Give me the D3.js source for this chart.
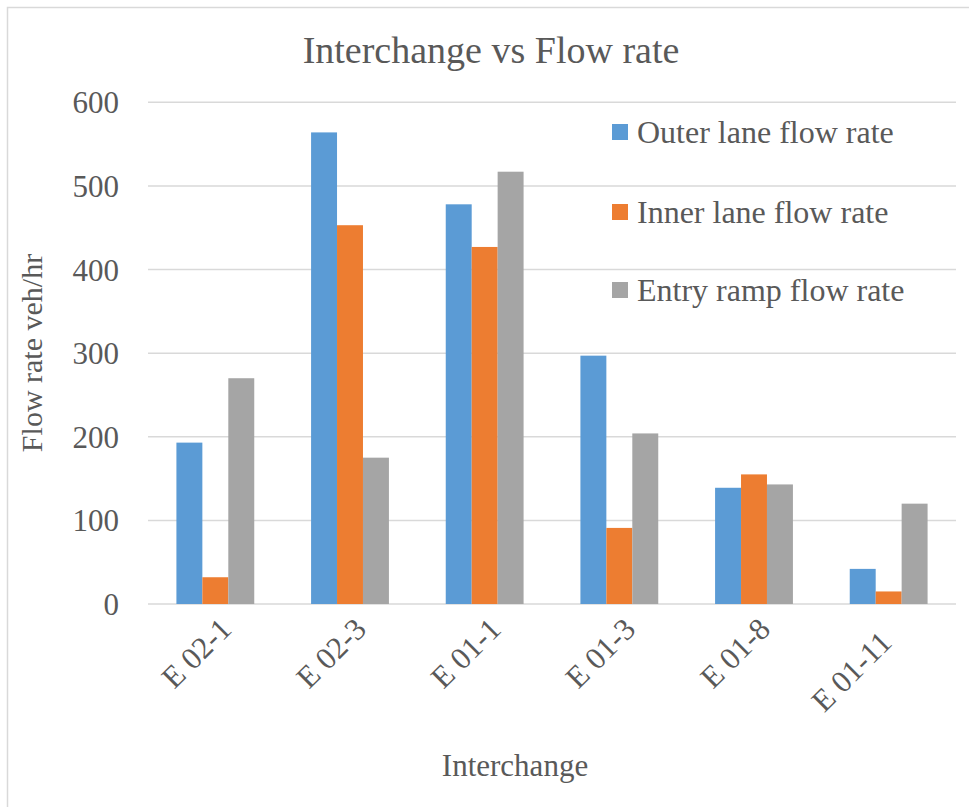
<!DOCTYPE html>
<html>
<head>
<meta charset="utf-8">
<script src="https://cdn.jsdelivr.net/npm/d3@7"></script>
<style>
  html, body { margin: 0; padding: 0; background: #fff; }
  svg { display: block; }
</style>
</head>
<body>
<svg id="chart" width="969" height="807"></svg>
<script>
// Interchanges along the corridor
const categories = ["E 02-1", "E 02-3", "E 01-1", "E 01-3", "E 01-8", "E 01-11"];

// Flow rates (veh/hr) per interchange
const outerLane = [193, 564, 478, 297, 139, 42];
const innerLane = [32, 453, 427, 91, 155, 15];
const entryRamp = [270, 175, 517, 204, 143, 120];

const seriesNames = ["Outer lane flow rate", "Inner lane flow rate", "Entry ramp flow rate"];
const seriesColors = ["#5B9BD5", "#ED7D31", "#A5A5A5"];
const yTicks = [0, 100, 200, 300, 400, 500, 600];

const series = [outerLane, innerLane, entryRamp];

const FONT = "'Liberation Serif', Tinos, 'Times New Roman', 'DejaVu Serif', serif";
const INK = "#595959";

const svg = d3.select("#chart")
  .attr("font-family", FONT);
const W = 969, H = 807;

// chart frame
svg.append("rect")
  .attr("x", 7.5).attr("y", 7.5)
  .attr("width", W).attr("height", H)
  .attr("fill", "#fff")
  .attr("stroke", "#D9D9D9").attr("stroke-width", 1.5);

const plot = { left: 148, right: 956, top: 102.3, bottom: 604 };

const x = d3.scaleBand()
  .domain(categories)
  .range([plot.left, plot.right])
  .padding(0);

// bar width follows a 219% gap width: band = 3w + 2.19w
const barW = x.bandwidth() / (3 + 2.19);
const xs = d3.scaleBand()
  .domain(d3.range(series.length))
  .range([0, barW * series.length])
  .padding(0);

const y = d3.scaleLinear()
  .domain([0, 600])
  .range([plot.bottom, plot.top]);

function label(sel) {
  return sel.attr("font-family", FONT).attr("fill", INK);
}

// horizontal gridlines
svg.append("g")
  .selectAll("line")
  .data(yTicks)
  .join("line")
  .attr("x1", plot.left).attr("x2", plot.right)
  .attr("y1", d => y(d)).attr("y2", d => y(d))
  .attr("stroke", "#D9D9D9")
  .attr("stroke-width", 1.5);

// y tick labels
svg.append("g")
  .selectAll("text")
  .data(yTicks)
  .join("text")
  .call(label)
  .attr("x", 119)
  .attr("y", d => y(d) + 11)
  .attr("text-anchor", "end")
  .attr("font-size", 31)
  .text(d => d);

// bars
const groups = svg.append("g")
  .selectAll("g")
  .data(categories)
  .join("g")
  .attr("transform", c => `translate(${x(c) + (x.bandwidth() - barW * series.length) / 2},0)`);

groups.selectAll("rect")
  .data((c, i) => series.map((s, k) => ({ k, v: s[i] })))
  .join("rect")
  .attr("x", d => xs(d.k))
  .attr("width", xs.bandwidth())
  .attr("y", d => y(d.v))
  .attr("height", d => y(0) - y(d.v))
  .attr("fill", d => seriesColors[d.k]);

// x category labels, rotated -45 degrees
const refLen = 83.5;
const xl = svg.append("g")
  .selectAll("text")
  .data(categories)
  .join("text")
  .call(label)
  .attr("text-anchor", "end")
  .attr("font-size", 31)
  .text(d => d);

xl.each(function(d) {
  const len = this.getComputedTextLength();
  const shift = (len - refLen) * 1.3 * Math.SQRT1_2;
  const cx = x(d) + x.bandwidth() / 2;
  const ax = cx + 18 - shift;
  const ay = 631 + shift;
  d3.select(this).attr("transform", `translate(${ax},${ay}) rotate(-45)`);
});

// title
svg.append("text")
  .call(label)
  .attr("x", 491).attr("y", 63)
  .attr("text-anchor", "middle")
  .attr("font-size", 38)
  .text("Interchange vs Flow rate");

// axis titles
svg.append("text")
  .call(label)
  .attr("transform", "translate(42,353) rotate(-90)")
  .attr("text-anchor", "middle")
  .attr("font-size", 30)
  .text("Flow rate veh/hr");

svg.append("text")
  .call(label)
  .attr("x", 515).attr("y", 776)
  .attr("text-anchor", "middle")
  .attr("font-size", 31)
  .text("Interchange");

// legend
const legend = svg.append("g")
  .selectAll("g")
  .data(seriesNames)
  .join("g")
  .attr("transform", (d, i) => `translate(612,${[132, 212, 290][i]})`);

legend.append("rect")
  .attr("x", 0).attr("y", -8)
  .attr("width", 16).attr("height", 16)
  .attr("fill", (d, i) => seriesColors[i]);

legend.append("text")
  .call(label)
  .attr("x", 25).attr("y", 11)
  .attr("font-size", 32)
  .text(d => d);
</script>
</body>
</html>
